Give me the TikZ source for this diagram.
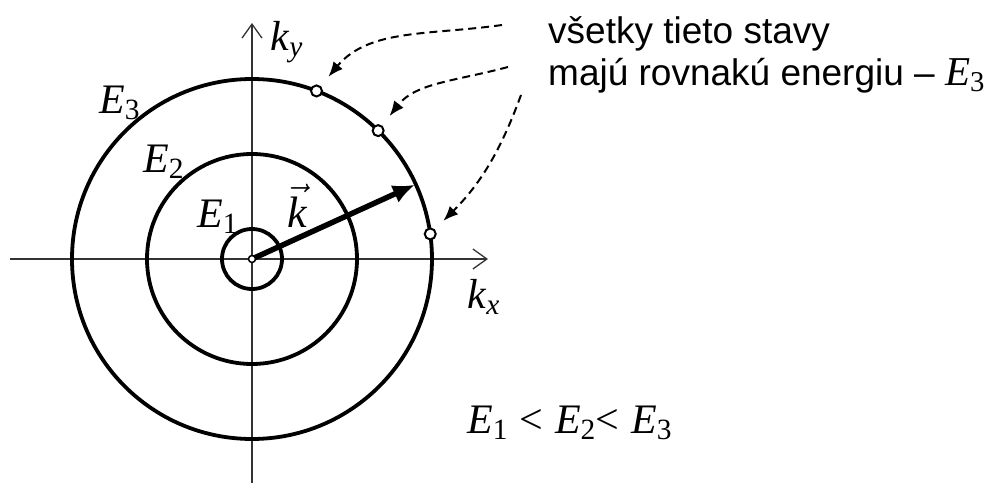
\RequirePackage{fix-cm}
\documentclass[tikz,border=0pt]{standalone}
\usepackage{fontspec}
\setmainfont{Liberation Sans}
\newfontfamily\tms{Liberation Serif}
\usepackage{tikz}
\usetikzlibrary{arrows.meta,positioning}

\newcommand{\En}[1]{{\tms\textit{E}\textsubscript{#1}}}
\newcommand{\kk}[1]{{\tms\textit{k}\textsubscript{\textit{#1}}}}

\begin{document}
\begin{tikzpicture}[
  x=1pt, y=1pt,
  sym/.style={font=\fontsize{42}{50}\selectfont, inner sep=0pt, anchor=base west},
  txt/.style={font=\fontsize{37}{42}\selectfont, inner sep=0pt, anchor=base west},
  ring/.style={line width=3.8pt},
  axis/.style={line width=1.3pt, draw=black!80, -{Straight Barb[length=14pt,width=20pt]}},
  state/.style={circle, draw, line width=2pt, fill=white, inner sep=0pt, minimum size=11pt},
  ptr/.style={dashed, dash pattern=on 8pt off 5pt, line width=2pt,
    -{Latex[length=15pt,width=12pt]}, shorten >=12pt},
]
\useasboundingbox (-252,-224) rectangle (737,259);

% axes
\coordinate (xl) at (-242,0);
\coordinate (xr) at (236,0);
\coordinate (yb) at (0,-224);
\coordinate (yt) at (0,236);
\draw[axis] (xl) -- (xr);
\draw[axis] (yb) -- (yt);
\node[sym] (ky) at (18,209) {\kk{y}};
\node[sym] (kx) at (215,-49) {\kk{x}};

% energy circles
\draw[ring] (0,0) circle (30);
\draw[ring] (0,0) circle (105);
\draw[ring] (0,0) circle (180);
\node[sym] (e3) at (-153,146) {\En{3}};
\node[sym] (e2) at (-109,87) {\En{2}};
\node[sym] (e1) at (-55,32) {\En{1}};

% wave vector
\coordinate (tip) at (24.5:179);
\draw[line width=5.5pt, -{Latex[length=22pt,width=19pt]}] (0,0) -- (tip);
\node[state, line width=1.5pt, minimum size=7pt] (o) at (0,0) {};
\node[sym] (kv) at (35,32) {\fontsize{44}{50}\selectfont$\vec{\mbox{\tms\itshape k}}$};

% states with equal energy
\node[state] (s1) at (69:180) {};
\node[state] (s2) at (45.5:180) {};
\node[state] (s3) at (8:180) {};

\node[txt] (t1) at (296,216) {všetky tieto stavy};
\node[txt] (t2) at ([yshift=-42pt]t1.base west) {majú rovnakú energiu – {\fontsize{41}{42}\selectfont\En{3}}};

\coordinate (d1) at (250,234);
\coordinate (d2) at (256,192);
\coordinate (d3) at (269,164);
\draw[ptr] (d1) to[out=188,in=50] (s1);
\draw[ptr] (d2) to[out=195,in=52] (s2);
\draw[ptr] (d3) to[out=250,in=45] (s3);

\node[sym] (ineq) at (215,-174) {\En{1} {\tms<} \En{2}{\tms<} \En{3}};
\end{tikzpicture}
\end{document}
